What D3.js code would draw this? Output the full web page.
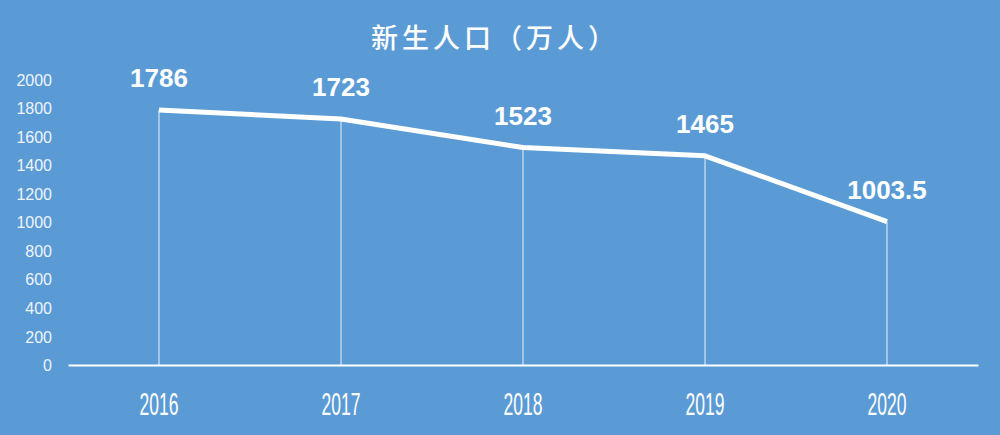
<!DOCTYPE html>
<html><head><meta charset="utf-8">
<script src="https://cdn.jsdelivr.net/npm/d3@7"></script>
<style>
html,body{margin:0;padding:0;background:#5b9bd5;}
svg{display:block;}
</style></head>
<body>
<svg id="chart" width="1000" height="435"></svg>
<script>
const years = ["2016","2017","2018","2019","2020"];
const births = [1786, 1723, 1523, 1465, 1003.5];
const yTicks = [0,200,400,600,800,1000,1200,1400,1600,1800,2000];
const title = "新生人口（万人）";

const svg = d3.select("#chart");
svg.append("rect").attr("width",1000).attr("height",435).attr("fill","#5b9bd5");

const x = d3.scaleBand().domain(years).range([68, 978]).padding(0);
const y = d3.scaleLinear().domain([0, 2000]).range([365, 79.4]);
const cx = d => x(d) + x.bandwidth()/2;

// title
svg.append("text")
  .attr("x", 495).attr("y", 48)
  .attr("text-anchor","middle")
  .attr("fill","#ffffff")
  .attr("font-family","'Noto Sans CJK SC', sans-serif")
  .attr("font-size", 27)
  .attr("font-weight", 500)
  .attr("letter-spacing", "4px")
  .text(title);

// y axis labels
const yAxis = d3.axisLeft(y).tickValues(yTicks).tickFormat(d3.format("d")).tickSize(0).tickPadding(0);
const yg = svg.append("g").attr("transform","translate(52,0)").call(yAxis);
yg.select(".domain").remove();
yg.selectAll("text")
  .attr("fill","#eef4fb")
  .attr("font-family","'Liberation Sans', Arial, sans-serif")
  .attr("font-size", 16)
  .attr("dy","0.35em");

// x axis
const xAxis = d3.axisBottom(x).tickSize(0).tickPadding(0);
const xg = svg.append("g").attr("transform","translate(0,365)").call(xAxis);
xg.select(".domain").attr("stroke","#ffffff").attr("stroke-width",2);
xg.selectAll("text")
  .attr("fill","#ffffff")
  .attr("font-family","'Liberation Sans Narrow', 'Liberation Sans', sans-serif")
  .attr("font-size", 31)
  .attr("y", 50)
  .attr("dy", 0)
  .attr("textLength", 39)
  .attr("lengthAdjust","spacingAndGlyphs");

// drop lines
svg.append("g").selectAll("line").data(years).join("line")
  .attr("x1", d => cx(d)).attr("x2", d => cx(d))
  .attr("y1", (d,i) => y(births[i])).attr("y2", y(0))
  .attr("stroke","#ffffff").attr("stroke-opacity",0.85).attr("stroke-width",1);

// main line
const line = d3.line().x((d,i) => cx(years[i])).y(d => y(d));
svg.append("path").datum(births)
  .attr("d", line)
  .attr("fill","none")
  .attr("stroke","#ffffff")
  .attr("stroke-width",5)
  .attr("stroke-linejoin","round")
  .attr("stroke-linecap","butt");

// data labels
svg.append("g").selectAll("text").data(births).join("text")
  .attr("x", (d,i) => cx(years[i]))
  .attr("y", d => y(d) - 23)
  .attr("text-anchor","middle")
  .attr("fill","#ffffff")
  .attr("font-family","'Liberation Sans', Arial, sans-serif")
  .attr("font-weight","bold")
  .attr("font-size", 26)
  .text(d => String(d));
</script>
</body></html>
